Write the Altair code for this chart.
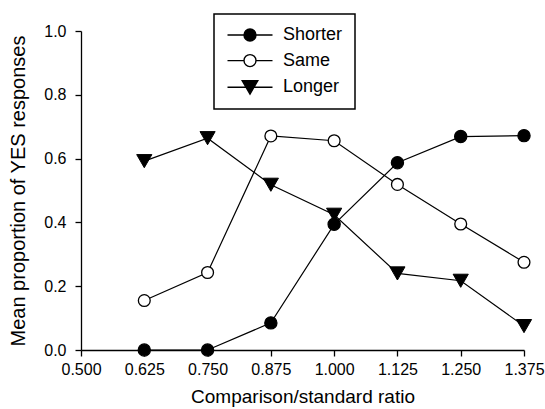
import altair as alt
import pandas as pd

ratios = [0.625, 0.750, 0.875, 1.000, 1.125, 1.250, 1.375]
shorter = [0.0, 0.0, 0.085, 0.394, 0.587, 0.669, 0.672]
same = [0.155, 0.243, 0.671, 0.656, 0.519, 0.395, 0.275]
longer = [0.592, 0.664, 0.518, 0.424, 0.240, 0.217, 0.075]
series_names = ["Shorter", "Same", "Longer"]
x_ticks = [0.5, 0.625, 0.75, 0.875, 1.0, 1.125, 1.25, 1.375]
y_ticks = [0.0, 0.2, 0.4, 0.6, 0.8, 1.0]

rows = []
for name, vals in zip(series_names, [shorter, same, longer]):
    for r, v in zip(ratios, vals):
        rows.append({"ratio": r, "value": v, "series": name})
df = pd.DataFrame(rows)

FONT = "Liberation Sans"

x_enc = alt.X("ratio:Q",
              scale=alt.Scale(domain=[0.5, 1.375], nice=False, zero=False),
              axis=alt.Axis(values=x_ticks, format=".3f", title="Comparison/standard ratio",
                            grid=False, tickSize=6, labelPadding=5, titlePadding=10,
                            titleFontSize=19, labelFlush=False))
y_enc = alt.Y("value:Q",
              scale=alt.Scale(domain=[0, 1], nice=False),
              axis=alt.Axis(values=y_ticks, format=".1f", title="Mean proportion of YES responses",
                            grid=False, tickSize=6, labelPadding=9, titlePadding=15,
                            titleFontSize=20, labelFlush=False))

base = alt.Chart(df)

lines = base.mark_line(color="black", strokeWidth=1.2).encode(
    x=x_enc, y=y_enc, detail="series:N")

pt_short = base.transform_filter(alt.datum.series == "Shorter").mark_point(
    shape="circle", filled=True, fill="black", stroke="black", strokeWidth=1.2,
    size=150, opacity=1).encode(x="ratio:Q", y="value:Q")
pt_same = base.transform_filter(alt.datum.series == "Same").mark_point(
    shape="circle", filled=True, fill="white", stroke="black", strokeWidth=1.3,
    size=140, opacity=1).encode(x="ratio:Q", y="value:Q")
pt_long = base.transform_filter(alt.datum.series == "Longer").mark_point(
    shape="triangle-down", filled=True, fill="black", stroke="black", strokeWidth=1,
    size=230, opacity=1).encode(x="ratio:Q", y="value:Q")

legend_paths = [
    "M-3.75,0L-0.95,0M0.95,0L3.75,0M-1,0A1,1 0 1,1 1,0A1,1 0 1,1 -1,0Z",
    "M-3.75,0L-0.95,0M0.95,0L3.75,0M-1,0A1,1 0 1,1 1,0A1,1 0 1,1 -1,0Z",
    "M-3.75,0L3.75,0M-1.3,-1.1L1.3,-1.1L0,1.15Z",
]
leg = alt.Legend(title=None, orient="none", legendX=133, legendY=-17, padding=12,
                 strokeColor="black", symbolSize=144, symbolStrokeWidth=1.4,
                 symbolStrokeColor="black", symbolOffset=15, labelOffset=24,
                 labelFontSize=18, labelFont=FONT, labelColor="black",
                 rowPadding=7.6, symbolOpacity=1)

legend_layer = base.transform_filter(alt.datum.ratio > 100).mark_point(
    filled=True, strokeWidth=1.4).encode(
    x="ratio:Q", y="value:Q",
    shape=alt.Shape("series:N", scale=alt.Scale(domain=series_names, range=legend_paths), legend=leg),
    fill=alt.Fill("series:N", scale=alt.Scale(domain=series_names, range=["black", "white", "black"]), legend=leg),
    stroke=alt.Stroke("series:N", scale=alt.Scale(domain=series_names, range=["black", "black", "black"]), legend=leg),
)

chart = alt.layer(lines, pt_short, pt_same, pt_long, legend_layer).properties(
    width=443, height=319,
    padding={"left": 81, "top": 31, "right": 21, "bottom": 59},
    autosize=alt.AutoSizeParams(type="none"),
    background="white",
).configure_view(stroke=None).configure_axis(
    domainColor="black", domainWidth=1.3, tickColor="black", tickWidth=1.3,
    labelFont=FONT, labelFontSize=16, labelColor="black",
    titleFont=FONT, titleFontWeight="normal", titleColor="black",
).configure_legend(strokeWidth=1.5)

chart.save("out.html", embed_options={"renderer": "svg", "actions": False})
